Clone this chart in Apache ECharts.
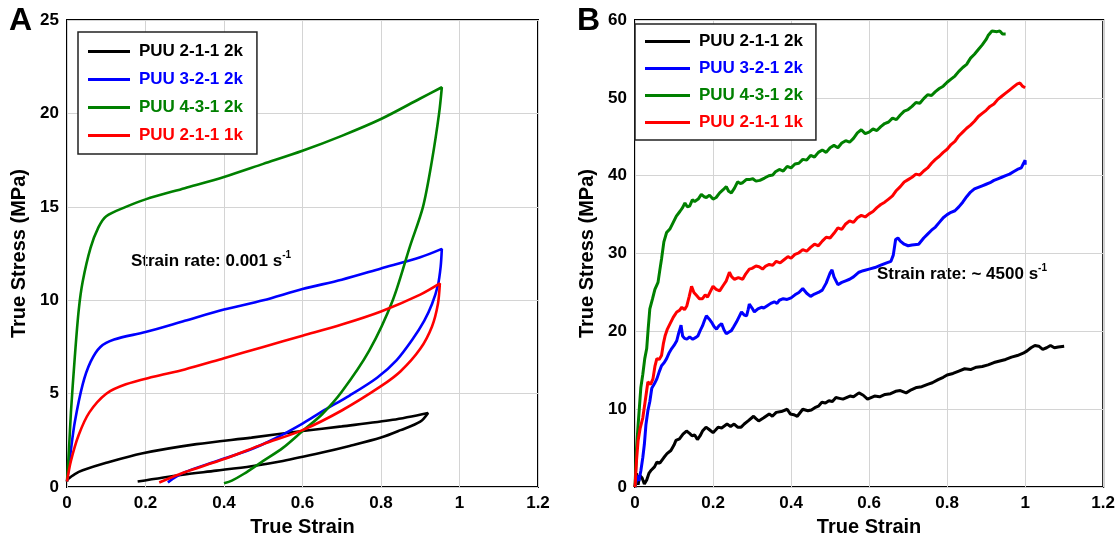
<!DOCTYPE html>
<html lang="en">
<head>
<meta charset="UTF-8">
<title>True stress vs true strain</title>
<script src="https://cdn.jsdelivr.net/npm/echarts@6/dist/echarts.min.js"></script>
<style>
  html, body { margin: 0; padding: 0; background: #fff; }
  #chart { width: 1118px; height: 542px; }
</style>
</head>
<body>
<div id="chart"></div>
<script>
// names and colours of the four samples
var names = ['PUU 2-1-1 2k', 'PUU 3-2-1 2k', 'PUU 4-3-1 2k', 'PUU 2-1-1 1k'];
var colors = ['#000000', '#0000ff', '#008000', '#ff0000'];

// axis ticks
var strainTicks = [0, 0.2, 0.4, 0.6, 0.8, 1, 1.2];
var stressTicksA = [0, 5, 10, 15, 20, 25];
var stressTicksB = [0, 10, 20, 30, 40, 50, 60];

// panel A : strain rate 0.001 s-1, loading then unloading  [strain, stress]
var a211_2k = [[0,0.4],[0.02,0.7],[0.04,0.9],[0.1,1.3],[0.19,1.8],[0.33,2.3],[0.47,2.65],[0.6,3.0],[0.7,3.25],
  [0.83,3.6],[0.92,3.97],[0.9,3.5],[0.85,3.05],[0.8,2.65],[0.72,2.2],[0.65,1.85],[0.55,1.4],[0.47,1.12],
  [0.38,0.88],[0.29,0.65],[0.18,0.3]];
var a321_2k = [[0,0.3],[0.01,2.0],[0.02,3.5],[0.04,5.5],[0.06,6.7],[0.085,7.5],[0.12,7.9],[0.2,8.3],[0.3,8.9],
  [0.4,9.5],[0.5,10.0],[0.6,10.6],[0.7,11.1],[0.8,11.7],[0.9,12.3],[0.955,12.75],[0.952,11.8],[0.945,10.8],
  [0.93,9.8],[0.91,8.9],[0.88,7.9],[0.84,6.8],[0.79,5.85],[0.72,4.9],[0.65,4.05],[0.6,3.4],[0.53,2.6],
  [0.466,2.0],[0.375,1.35],[0.3,0.8],[0.27,0.45],[0.257,0.25]];
var a431_2k = [[0,0.3],[0.005,2.0],[0.01,4.0],[0.02,7.0],[0.03,9.5],[0.04,11.0],[0.06,12.8],[0.08,13.9],
  [0.1,14.5],[0.15,15.0],[0.2,15.4],[0.3,16.0],[0.4,16.6],[0.5,17.3],[0.6,18.0],[0.7,18.8],[0.8,19.7],
  [0.9,20.8],[0.955,21.4],[0.948,20.0],[0.93,17.5],[0.907,15.0],[0.874,12.9],[0.83,10.0],[0.77,7.3],
  [0.7,5.1],[0.65,3.9],[0.6,3.0],[0.55,2.1],[0.5,1.4],[0.45,0.7],[0.42,0.35],[0.4,0.2]];
var a211_1k = [[0,0.3],[0.01,1.4],[0.03,2.8],[0.057,4.0],[0.1,5.0],[0.15,5.5],[0.22,5.9],[0.3,6.3],[0.4,6.9],
  [0.5,7.5],[0.6,8.1],[0.7,8.7],[0.8,9.4],[0.9,10.3],[0.95,10.9],[0.945,9.8],[0.93,8.6],[0.9,7.4],
  [0.85,6.2],[0.8,5.4],[0.7,4.1],[0.6,3.05],[0.5,2.3],[0.4,1.5],[0.3,0.8],[0.27,0.55],[0.235,0.25]];

// panel B : strain rate ~4500 s-1  [strain, stress]
var b211_2k = [[0,0],[0.004,1.8],[0.008,0.3],[0.012,1.5],[0.018,1.2],[0.024,0.4],[0.03,0.9],[0.036,1.8],
  [0.042,2.2],[0.05,2.6],[0.056,3.2],[0.064,3.1],[0.074,3.8],[0.082,4.3],[0.092,4.7],[0.1,5.4],[0.105,6.0],
  [0.114,6.2],[0.123,6.8],[0.132,7.2],[0.14,6.9],[0.146,6.6],[0.153,6.7],[0.16,6.1],[0.167,6.6],[0.173,7.2],
  [0.182,7.7],[0.19,7.4],[0.2,7.0],[0.206,7.3],[0.213,7.7],[0.222,7.6],[0.236,8.1],[0.245,7.8],[0.254,8.1],
  [0.263,7.7],[0.272,7.7],[0.28,8.1],[0.29,8.5],[0.304,9.1],[0.31,8.8],[0.317,8.5],[0.33,8.9],[0.344,9.4],
  [0.352,9.1],[0.362,9.6],[0.375,9.7],[0.39,10.0],[0.398,9.4],[0.407,9.3],[0.416,9.1],[0.43,10.0],[0.443,9.8],
  [0.452,9.9],[0.461,10.2],[0.47,10.4],[0.479,10.9],[0.488,10.8],[0.497,11.1],[0.506,11.0],[0.515,11.5],
  [0.524,11.4],[0.533,11.3],[0.542,11.5],[0.551,11.7],[0.56,11.6],[0.574,12.1],[0.585,11.8],[0.596,11.3],
  [0.605,11.5],[0.614,11.7],[0.627,11.6],[0.641,11.9],[0.655,12.0],[0.668,12.3],[0.68,12.4],[0.695,12.1],
  [0.708,12.5],[0.722,12.8],[0.735,12.9],[0.75,13.2],[0.762,13.4],[0.777,13.8],[0.79,14.1],[0.8,14.4],
  [0.815,14.6],[0.83,14.9],[0.845,15.2],[0.86,15.1],[0.875,15.4],[0.89,15.5],[0.905,15.7],[0.92,16.0],
  [0.935,16.2],[0.95,16.4],[0.965,16.7],[0.98,16.9],[0.995,17.2],[1.005,17.5],[1.015,17.9],[1.025,18.2],
  [1.035,18.1],[1.045,17.7],[1.055,17.9],[1.065,18.2],[1.075,17.9],[1.085,18.0],[1.1,18.1]];
var b321_2k = [[0,0],[0.006,1.5],[0.01,0.8],[0.015,2.1],[0.02,3.8],[0.024,5.5],[0.028,8.0],[0.033,9.8],
  [0.038,11.0],[0.043,12.7],[0.05,13.3],[0.056,13.9],[0.062,14.8],[0.068,15.6],[0.075,16.0],[0.081,16.5],
  [0.088,17.3],[0.094,17.8],[0.1,18.2],[0.107,18.8],[0.111,19.6],[0.115,20.3],[0.118,20.8],[0.122,19.4],
  [0.127,19.1],[0.133,19.0],[0.14,19.3],[0.148,19.0],[0.155,19.2],[0.161,19.4],[0.167,20.1],[0.173,20.7],
  [0.178,21.4],[0.183,22.0],[0.19,21.6],[0.196,21.2],[0.203,20.6],[0.209,20.3],[0.215,20.7],[0.222,21.0],
  [0.228,20.2],[0.234,19.7],[0.24,19.9],[0.247,20.1],[0.253,20.6],[0.26,21.2],[0.267,21.9],[0.273,22.5],
  [0.28,22.1],[0.286,22.0],[0.29,22.8],[0.293,23.5],[0.3,23.0],[0.306,22.5],[0.315,22.9],[0.324,23.1],
  [0.33,23.0],[0.339,23.3],[0.348,23.6],[0.357,23.8],[0.364,23.6],[0.37,24.0],[0.38,24.2],[0.39,24.1],
  [0.4,24.3],[0.41,24.7],[0.42,25.0],[0.43,25.5],[0.44,24.9],[0.45,24.5],[0.46,24.8],[0.47,25.0],[0.48,25.3],
  [0.49,26.2],[0.5,27.5],[0.505,27.9],[0.51,27.0],[0.52,26.0],[0.53,26.3],[0.54,26.5],[0.55,26.7],[0.56,27.0],
  [0.574,27.6],[0.585,27.8],[0.6,28.0],[0.615,28.2],[0.63,28.5],[0.645,28.8],[0.656,29.0],[0.662,29.8],
  [0.668,31.8],[0.674,32.0],[0.68,31.6],[0.69,31.2],[0.7,31.0],[0.71,31.1],[0.727,31.2],[0.74,32.0],
  [0.75,32.5],[0.76,33.0],[0.77,33.4],[0.78,34.0],[0.79,34.6],[0.8,35.0],[0.81,35.3],[0.82,35.5],[0.83,36.0],
  [0.84,36.6],[0.85,37.3],[0.86,37.9],[0.87,38.3],[0.88,38.5],[0.89,38.7],[0.9,38.9],[0.91,39.1],[0.92,39.4],
  [0.93,39.6],[0.94,39.8],[0.95,40.0],[0.96,40.2],[0.97,40.5],[0.98,40.8],[0.99,41.0],[0.995,41.5],
  [1.0,42.0],[1.0,41.4]];
var b431_2k = [[0,0],[0.004,5.0],[0.008,8.0],[0.015,12.8],[0.02,14.5],[0.025,16.5],[0.03,17.8],[0.034,20.5],
  [0.038,22.9],[0.045,24.2],[0.051,25.4],[0.059,26.3],[0.064,28.0],[0.068,29.3],[0.074,31.5],[0.081,32.7],
  [0.09,33.2],[0.098,34.0],[0.106,34.8],[0.115,35.4],[0.122,35.9],[0.128,36.5],[0.134,36.0],[0.14,36.1],
  [0.147,36.9],[0.153,36.7],[0.162,37.0],[0.17,37.6],[0.177,37.3],[0.183,37.2],[0.191,37.5],[0.2,37.0],
  [0.208,37.2],[0.217,37.8],[0.226,38.2],[0.234,38.6],[0.24,38.0],[0.247,37.8],[0.255,38.4],[0.263,39.2],
  [0.27,39.0],[0.276,39.1],[0.285,39.5],[0.293,39.5],[0.302,39.6],[0.31,39.3],[0.32,39.4],[0.332,39.7],
  [0.343,40.0],[0.353,40.1],[0.36,40.5],[0.37,40.8],[0.38,40.6],[0.39,41.2],[0.4,41.0],[0.41,41.5],
  [0.42,41.6],[0.43,42.1],[0.44,42.0],[0.45,42.6],[0.46,42.4],[0.47,43.0],[0.48,43.3],[0.49,43.0],[0.5,43.6],
  [0.51,43.9],[0.52,43.6],[0.53,44.2],[0.54,44.5],[0.55,44.3],[0.56,44.8],[0.57,45.5],[0.58,45.9],[0.59,45.4],
  [0.6,45.6],[0.61,46.0],[0.62,45.8],[0.63,46.3],[0.64,46.7],[0.65,46.9],[0.66,47.4],[0.67,47.2],[0.68,47.8],
  [0.69,48.3],[0.7,48.5],[0.71,48.9],[0.72,49.4],[0.73,49.3],[0.74,49.9],[0.75,50.4],[0.76,50.3],[0.77,50.8],
  [0.78,51.2],[0.79,51.5],[0.8,52.0],[0.81,52.4],[0.82,52.8],[0.83,53.4],[0.84,53.9],[0.85,54.3],[0.86,55.1],
  [0.87,55.6],[0.88,56.2],[0.89,56.8],[0.9,57.5],[0.905,58.0],[0.91,58.3],[0.915,58.6],[0.92,58.8],
  [0.928,58.5],[0.935,58.6],[0.942,58.2],[0.95,58.2]];
var b211_1k = [[0,0],[0.004,3.5],[0.008,6.0],[0.013,7.5],[0.02,8.9],[0.026,11.0],[0.033,13.5],[0.04,13.2],
  [0.046,13.9],[0.051,15.5],[0.056,16.5],[0.062,16.4],[0.068,16.9],[0.073,18.5],[0.077,19.4],[0.083,20.3],
  [0.089,20.9],[0.098,21.8],[0.107,22.5],[0.114,22.7],[0.12,23.1],[0.127,22.8],[0.133,23.3],[0.139,24.5],
  [0.145,25.8],[0.151,25.0],[0.158,24.6],[0.165,24.2],[0.173,24.2],[0.18,24.7],[0.186,24.4],[0.193,25.1],
  [0.2,25.8],[0.208,25.4],[0.217,25.2],[0.226,25.9],[0.234,26.5],[0.242,27.6],[0.248,27.0],[0.255,26.7],
  [0.265,26.9],[0.276,26.7],[0.284,27.4],[0.293,28.0],[0.3,28.1],[0.31,28.4],[0.318,28.3],[0.327,28.0],
  [0.335,28.4],[0.344,28.6],[0.353,28.5],[0.362,29.0],[0.372,28.8],[0.382,29.2],[0.392,29.6],[0.4,29.4],
  [0.41,29.9],[0.42,30.1],[0.43,30.5],[0.44,30.3],[0.45,30.8],[0.46,31.2],[0.47,31.0],[0.48,31.6],[0.49,32.1],
  [0.5,32.0],[0.51,32.6],[0.52,33.3],[0.53,33.1],[0.54,33.8],[0.55,34.2],[0.56,34.0],[0.57,34.6],[0.58,34.9],
  [0.59,34.7],[0.6,35.1],[0.61,35.4],[0.62,35.9],[0.63,36.3],[0.64,36.6],[0.65,37.0],[0.66,37.4],[0.67,38.1],
  [0.68,38.6],[0.69,39.2],[0.7,39.5],[0.71,39.8],[0.72,40.2],[0.73,40.1],[0.74,40.6],[0.75,41.0],[0.76,41.6],
  [0.77,42.1],[0.78,42.5],[0.79,43.0],[0.8,43.4],[0.81,44.0],[0.82,44.4],[0.83,45.1],[0.84,45.6],[0.85,46.1],
  [0.86,46.5],[0.87,47.0],[0.88,47.6],[0.89,48.0],[0.9,48.4],[0.91,48.9],[0.92,49.2],[0.93,49.8],[0.94,50.2],
  [0.95,50.6],[0.96,51.0],[0.97,51.4],[0.98,51.8],[0.987,51.9],[0.993,51.5],[1.0,51.3]];

var seriesA = [a211_2k, a321_2k, a431_2k, a211_1k];
var seriesB = [b211_2k, b321_2k, b431_2k, b211_1k];

var font = "'Liberation Sans', Arial, sans-serif";
var labelStyle = { color: '#000', fontSize: 17, fontWeight: 'bold', fontFamily: font, margin: 8 };
var nameStyle = { color: '#000', fontSize: 20, fontWeight: 'bold', fontFamily: font };

function xAxisFor(idx) {
  return {
    type: 'value', gridIndex: idx, min: strainTicks[0], max: strainTicks[strainTicks.length - 1], interval: 0.2,
    name: 'True Strain', nameLocation: 'middle', nameGap: 27, nameTextStyle: nameStyle,
    axisLine: { show: false }, axisTick: { show: false }, axisLabel: labelStyle,
    splitLine: { lineStyle: { color: '#d4d4d4', width: 1 } }
  };
}
function yAxisFor(idx, ticks) {
  return {
    type: 'value', gridIndex: idx, min: ticks[0], max: ticks[ticks.length - 1], interval: ticks[1] - ticks[0],
    name: 'True Stress (MPa)', nameLocation: 'middle', nameGap: 38, nameTextStyle: nameStyle,
    axisLine: { show: false }, axisTick: { show: false }, axisLabel: labelStyle,
    splitLine: { lineStyle: { color: '#d4d4d4', width: 1 } }
  };
}
function legendFor(idx, left, top, w, gap, pad) {
  return {
    orient: 'vertical', left: left, top: top, icon: 'rect', itemWidth: w, itemHeight: 3, itemGap: gap,
    padding: pad, borderColor: '#222', borderWidth: 1.5, backgroundColor: '#fff', selectedMode: false,
    textStyle: { fontSize: 17, fontWeight: 'bold', fontFamily: font, lineHeight: 17, padding: [0, 0, 0, 4] },
    data: names.map(function (n, i) { return { name: n, textStyle: { color: colors[i] } }; })
  };
}

var series = [];
seriesA.forEach(function (d, i) {
  series.push({ name: names[i], type: 'line', xAxisIndex: 0, yAxisIndex: 0, data: d, smooth: 0.3,
    showSymbol: false, symbol: 'none', color: colors[i], lineStyle: { width: 2.6, color: colors[i] } });
});
seriesB.forEach(function (d, i) {
  series.push({ name: names[i], type: 'line', xAxisIndex: 1, yAxisIndex: 1, data: d,
    showSymbol: false, symbol: 'none', color: colors[i], lineStyle: { width: 3, color: colors[i] } });
});

var rateRich = {
  b: { fontSize: 17, fontWeight: 'bold', fontFamily: font, color: '#000', lineHeight: 20, verticalAlign: 'bottom' },
  sup: { fontSize: 10, fontWeight: 'bold', fontFamily: font, color: '#000', lineHeight: 20, verticalAlign: 'top' }
};

var option = {
  backgroundColor: '#fff',
  animation: false,
  grid: [
    { left: 67, right: 580, top: 20, bottom: 53, show: true, borderColor: '#000', borderWidth: 2 },
    { left: 635, right: 13, top: 20, bottom: 53, show: true, borderColor: '#000', borderWidth: 2 }
  ],
  xAxis: [xAxisFor(0), xAxisFor(1)],
  yAxis: [yAxisFor(0, stressTicksA), yAxisFor(1, stressTicksB)],
  legend: [
    legendFor(0, 78, 32, 42, 11, [11, 14, 10, 10]),
    legendFor(1, 635, 24, 45, 10, [9, 13, 9, 10])
  ],
  graphic: [
    { type: 'text', left: 9, top: 5, style: { text: 'A', fontSize: 32, fontWeight: 'bold', fontFamily: font, fill: '#000' } },
    { type: 'text', left: 577, top: 5, style: { text: 'B', fontSize: 32, fontWeight: 'bold', fontFamily: font, fill: '#000' } },
    { type: 'text', left: 131, top: 250, style: { text: '{b|Strain rate: 0.001 s}{sup|-1}', rich: rateRich } },
    { type: 'text', left: 877, top: 263, style: { text: '{b|Strain rate: ~ 4500 s}{sup|-1}', rich: rateRich } }
  ],
  series: series
};

var myChart = echarts.init(document.getElementById('chart'));
myChart.setOption(option);
</script>
</body>
</html>
